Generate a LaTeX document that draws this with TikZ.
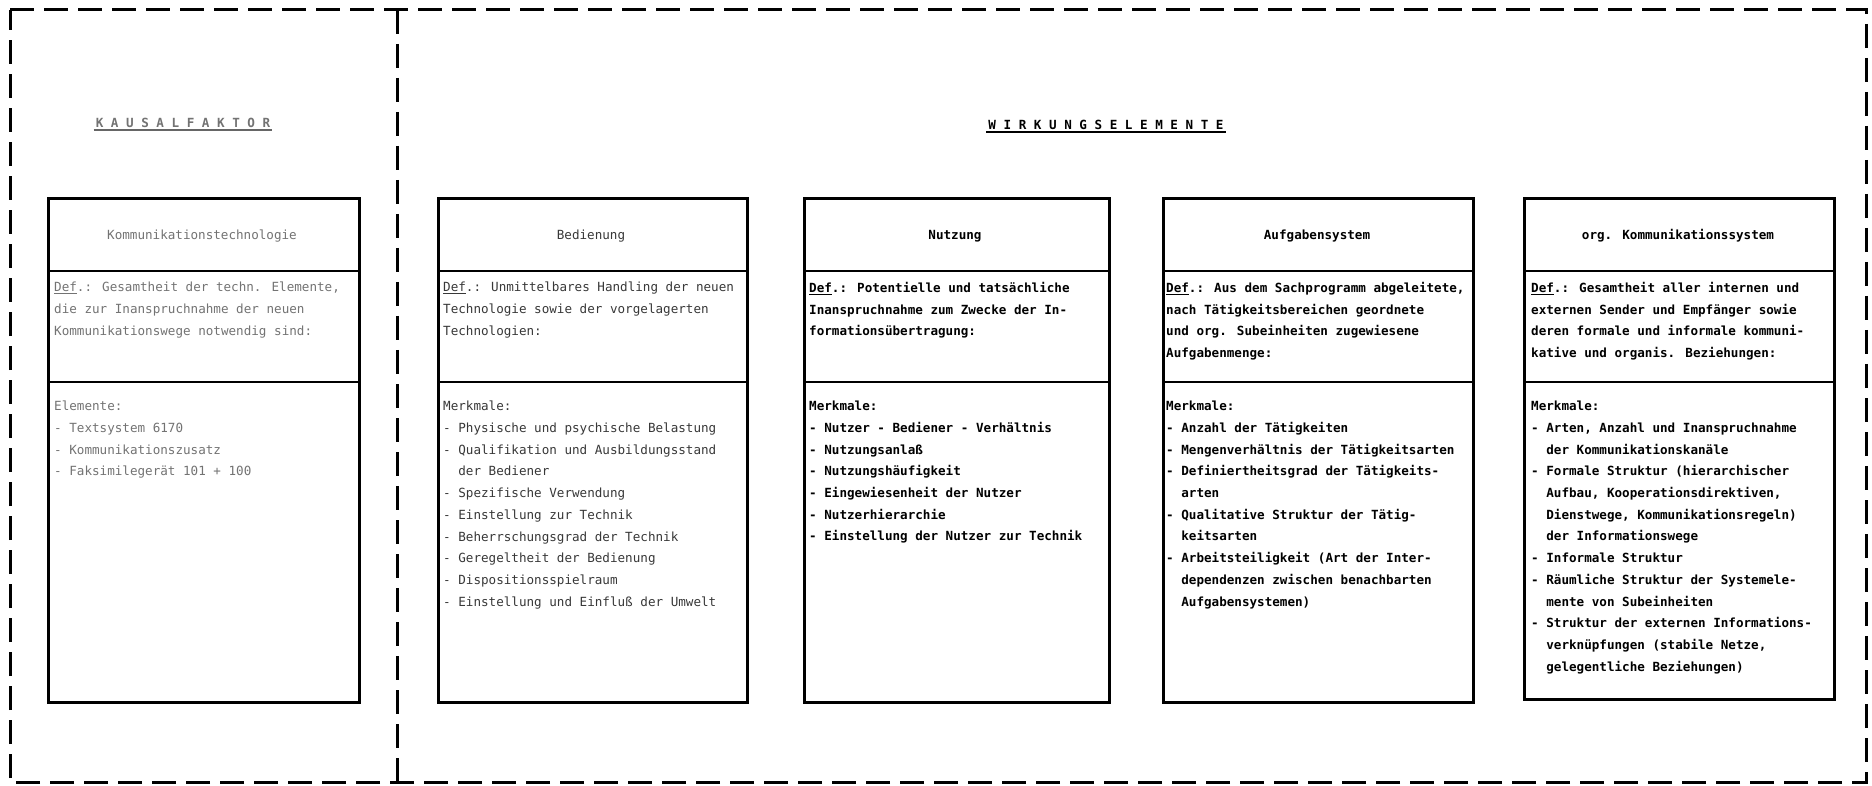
\documentclass[tikz,border=0pt]{standalone}
\usepackage{fontspec}
\newfontfamily\plot{DejaVu Sans Mono}
\newcommand\ind{\hspace*{15.17pt}}
\newcommand\df{\underline{Def}.:}
\begin{document}
\begin{tikzpicture}[x=1pt,y=-1pt,
  frame/.style={line width=3pt, dash pattern=on 24pt off 10pt},
  card/.style={draw, line width=3pt, inner sep=0pt, anchor=north west, minimum height=504pt},
  divider/.style={line width=2.5pt},
  hd/.style={font=\plot\fontsize{12.6}{21.7}\selectfont, inner sep=0pt, anchor=center},
  body/.style={font=\plot\fontsize{12.6}{21.7}\selectfont, anchor=north west, align=left, inner sep=0pt},
  ttl/.style={font=\plot\bfseries\fontsize{12.6}{15}\selectfont, inner sep=2pt},
  faint/.style={text=black!55},
  semi/.style={text=black!78},
  heavy/.style={font=\plot\bfseries\fontsize{12.6}{21.7}\selectfont}
]
\useasboundingbox (0,0) rectangle (1872,786);
\fill[white] (0,0) rectangle (1872,786);
% outer dashed frame and separator
\coordinate (fnw) at (10,10);
\coordinate (fne) at (1866,10);
\coordinate (fse) at (1866,782);
\coordinate (fsw) at (10,782);
\coordinate (st) at (397,10);
\coordinate (sb) at (397,782);
\draw[frame] (fnw) -- (fne) -- (fse) -- (fsw) -- cycle;
\draw[frame] (st) -- (sb);

% titles
\node[ttl, faint] (t1) at (183,123) {K A U S A L F A K T O R};
\draw[line width=1.6pt, black!60] (t1.south west) -- (t1.south east);
\node[ttl] (t2) at (1106,125) {W I R K U N G S E L E M E N T E};
\draw[line width=1.6pt] (t2.south west) -- (t2.south east);

% boxes
\node[card, minimum width=311pt] (b1) at (47,197) {};
\node[card, minimum width=309pt] (b2) at (437,197) {};
\node[card, minimum width=305pt] (b3) at (803,197) {};
\node[card, minimum width=310pt] (b4) at (1162,197) {};
\node[card, minimum width=310pt, minimum height=501pt] (b5) at (1523,197) {};

\foreach \b in {b1,b2,b3,b4,b5}{
  \draw[divider] ([yshift=-74pt]\b.north west) -- ([yshift=-74pt]\b.north east);
  \draw[divider] ([yshift=-185pt]\b.north west) -- ([yshift=-185pt]\b.north east);
}

% headers
\node[hd, faint] (h1) at (202,236) {Kommunikationstechnologie};
\node[hd, semi] (h2) at (591,236) {Bedienung};
\node[hd, heavy] (h3) at (955,236) {Nutzung};
\node[hd, heavy] (h4) at (1317,236) {Aufgabensystem};
\node[hd, heavy] (h5) at (1678,236) {org. Kommunikationssystem};

% definitions
\node[body, faint] (d1) at (54,282) {\df{} Gesamtheit der techn. Elemente,\\die zur Inanspruchnahme der neuen\\Kommunikationswege notwendig sind:};
\node[body, semi] (d2) at (443,282) {\df{} Unmittelbares Handling der neuen\\Technologie sowie der vorgelagerten\\Technologien:};
\node[body, heavy] (d3) at (809,282) {\df{} Potentielle und tatsächliche\\Inanspruchnahme zum Zwecke der In-\\formationsübertragung:};
\node[body, heavy] (d4) at (1166,282) {\df{} Aus dem Sachprogramm abgeleitete,\\nach Tätigkeitsbereichen geordnete\\und org. Subeinheiten zugewiesene\\Aufgabenmenge:};
\node[body, heavy] (d5) at (1531,282) {\df{} Gesamtheit aller internen und\\externen Sender und Empfänger sowie\\deren formale und informale kommuni-\\kative und organis. Beziehungen:};

% features
\node[body, faint] (m1) at (54,401) {Elemente:\\- Textsystem 6170\\- Kommunikationszusatz\\- Faksimilegerät 101 + 100};
\node[body, semi] (m2) at (443,401) {Merkmale:\\- Physische und psychische Belastung\\- Qualifikation und Ausbildungsstand\\\ind der Bediener\\- Spezifische Verwendung\\- Einstellung zur Technik\\- Beherrschungsgrad der Technik\\- Geregeltheit der Bedienung\\- Dispositionsspielraum\\- Einstellung und Einfluß der Umwelt};
\node[body, heavy] (m3) at (809,401) {Merkmale:\\- Nutzer - Bediener - Verhältnis\\- Nutzungsanlaß\\- Nutzungshäufigkeit\\- Eingewiesenheit der Nutzer\\- Nutzerhierarchie\\- Einstellung der Nutzer zur Technik};
\node[body, heavy] (m4) at (1166,401) {Merkmale:\\- Anzahl der Tätigkeiten\\- Mengenverhältnis der Tätigkeitsarten\\- Definiertheitsgrad der Tätigkeits-\\\ind arten\\- Qualitative Struktur der Tätig-\\\ind keitsarten\\- Arbeitsteiligkeit (Art der Inter-\\\ind dependenzen zwischen benachbarten\\\ind Aufgabensystemen)};
\node[body, heavy] (m5) at (1531,401) {Merkmale:\\- Arten, Anzahl und Inanspruchnahme\\\ind der Kommunikationskanäle\\- Formale Struktur (hierarchischer\\\ind Aufbau, Kooperationsdirektiven,\\\ind Dienstwege, Kommunikationsregeln)\\\ind der Informationswege\\- Informale Struktur\\- Räumliche Struktur der Systemele-\\\ind mente von Subeinheiten\\- Struktur der externen Informations-\\\ind verknüpfungen (stabile Netze,\\\ind gelegentliche Beziehungen)};
\end{tikzpicture}
\end{document}
